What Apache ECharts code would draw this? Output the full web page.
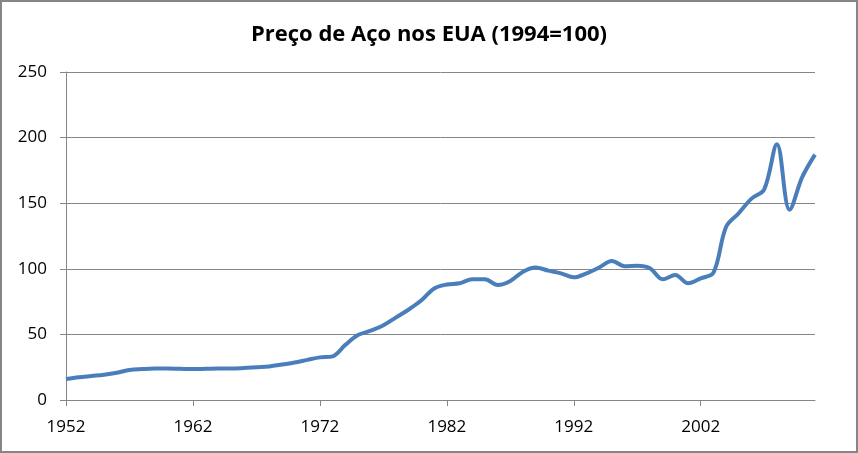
<!DOCTYPE html>
<html>
<head>
<meta charset="utf-8">
<script src="https://cdn.jsdelivr.net/npm/echarts@6/dist/echarts.min.js"></script>
<style>
html,body{margin:0;padding:0;background:#fff;}
#c{width:858px;height:453px;box-sizing:border-box;border:2px solid #868686;}
</style>
</head>
<body>
<div id="c"></div>
<script>
const years = [];
for (let y = 1952; y <= 2011; y++) years.push(String(y));
const priceIndex = [
  16, 17.3, 18.3, 19.3, 20.8, 22.9, 23.6, 24, 24, 23.8,
  23.6, 23.8, 24, 24, 24.4, 25, 25.6, 27, 28.6, 30.6,
  32.5, 33.3, 42, 49.5, 52.8, 57, 63, 69, 76, 85,
  88, 89, 92, 92, 87.6, 90.7, 97.8, 101, 98.6, 96.5,
  93.5, 96.5, 101, 106, 102, 102.4, 100.4, 92, 95.3, 89,
  92.7, 97, 132, 142.5, 153.5, 160.6, 195, 145, 170, 187
];
const yTicks = [0, 50, 100, 150, 200, 250];
const titleText = 'Preço de Aço nos EUA (1994=100)';

const chart = echarts.init(document.getElementById('c'), null, {renderer: 'canvas'});
chart.setOption({
  animation: false,
  backgroundColor: '#fff',
  title: {
    text: titleText,
    left: 'center',
    top: 17,
    textStyle: {fontFamily: 'Open Sans', fontWeight: 'bold', fontSize: 22, color: '#000'}
  },
  grid: {left: 64, right: 41, top: 70, bottom: 51},
  xAxis: {
    type: 'category',
    data: years,
    boundaryGap: false,
    axisLine: {lineStyle: {color: '#868686', width: 1}},
    axisTick: {interval: 9, length: 6, lineStyle: {color: '#868686'}},
    axisLabel: {interval: 9, color: '#000', fontFamily: 'Open Sans', fontSize: 17, margin: 19}
  },
  yAxis: {
    type: 'value',
    min: yTicks[0],
    max: yTicks[yTicks.length - 1],
    interval: 50,
    axisLine: {show: true, lineStyle: {color: '#868686', width: 1}},
    axisTick: {show: true, length: 6, lineStyle: {color: '#868686'}},
    axisLabel: {color: '#000', fontFamily: 'Open Sans', fontSize: 17, margin: 19},
    splitLine: {lineStyle: {color: '#868686', width: 1}}
  },
  series: [{
    type: 'line',
    data: priceIndex,
    smooth: 0.35,
    showSymbol: false,
    lineStyle: {color: '#4a7ebb', width: 4},
    itemStyle: {color: '#4a7ebb'}
  }]
});
</script>
</body>
</html>
